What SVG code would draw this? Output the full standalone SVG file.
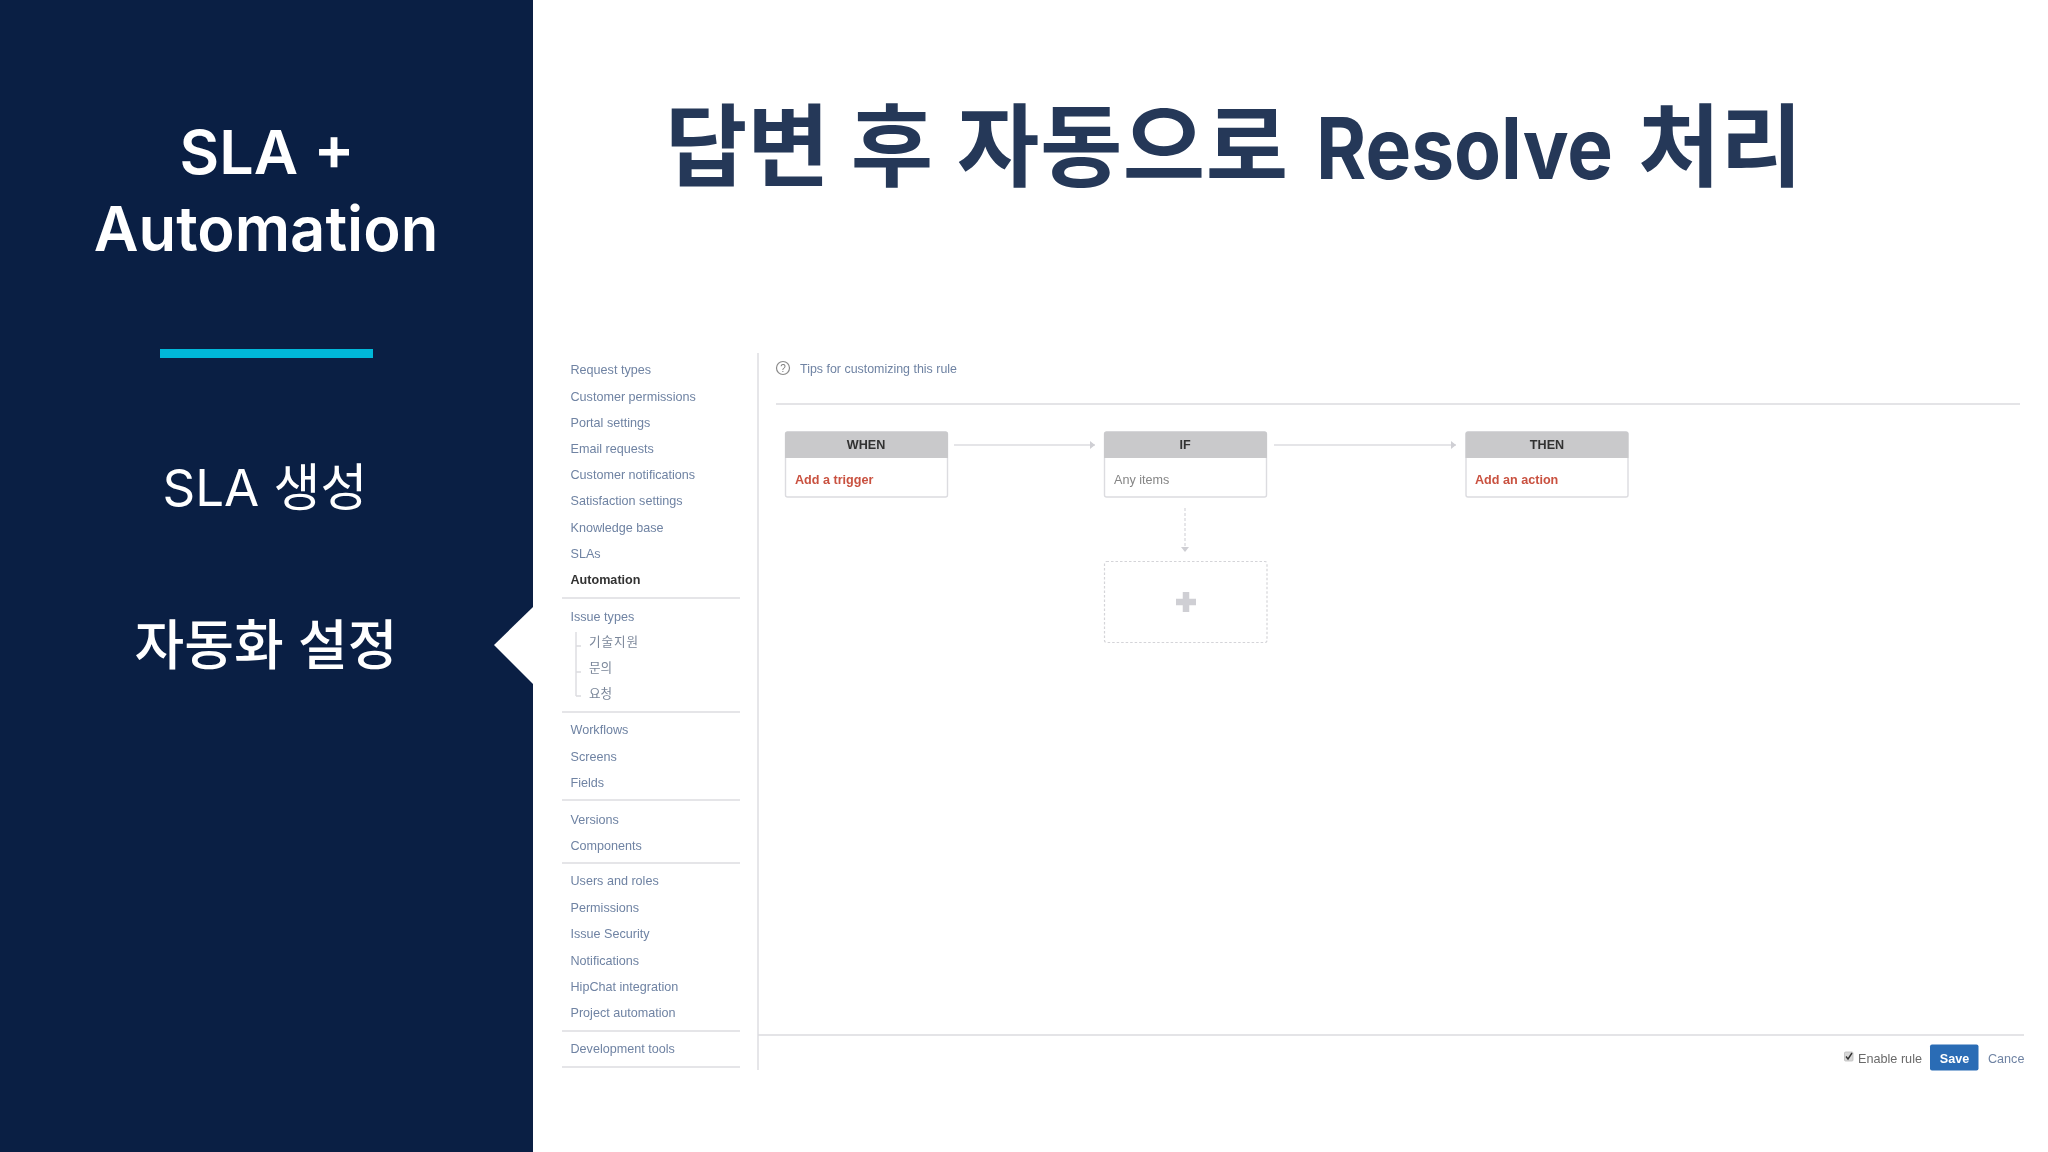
<svg xmlns="http://www.w3.org/2000/svg" width="2048" height="1152" viewBox="0 0 2048 1152">
<style>
text{font-family:"Liberation Sans",Arial,"Noto Sans CJK KR",sans-serif}
.k{font-family:"Inter","Noto Sans CJK KR",sans-serif}
.side{fill:#fff;text-anchor:middle}
.m{font-size:12.6px;fill:#6f83a3}
.mk{font-size:12.6px;fill:#7a8699;font-family:"Noto Sans CJK KR",sans-serif}
.h{font-size:12.6px;font-weight:bold;fill:#333;text-anchor:middle}
.a{font-size:12.6px;font-weight:bold;fill:#c9513f}
.sep{stroke:#dcdce0;stroke-width:1.4;fill:none}
.conn{stroke:#dcdce0;stroke-width:1.4;fill:none}
.box{fill:#fff;stroke:#dcdce0;stroke-width:1.4}
.head{fill:#c9c9cb}
</style>
<defs>
<marker id="ah" markerUnits="userSpaceOnUse" markerWidth="7" markerHeight="10" refX="6" refY="5" orient="auto"><path d="M1 1L6 5L1 9Z" fill="#cfcfd4"/></marker>
<filter id="soft" x="-2%" y="-2%" width="104%" height="104%"><feGaussianBlur stdDeviation="0.4"/></filter>
</defs>
<rect width="2048" height="1152" fill="#fff"/>
<g id="sidebar">
<rect width="533" height="1152" fill="#0a1f44"/>
<path d="M533 607L494 645L533 684Z" fill="#fff"/>
<text class="side k" x="267" y="174" font-size="61" font-weight="600">SLA +</text>
<text class="side k" x="266" y="251" font-size="61.5" font-weight="600">Automation</text>
<rect x="160" y="349" width="213" height="9" fill="#00b8d9"/>
<text class="side k" x="265" y="506" font-size="51" font-weight="400">SLA 생성</text>
<text class="side k" x="266" y="665" font-size="54" font-weight="500">자동화 설정</text>
</g>
<text id="title" class="k" x="665" y="179" font-size="89.5" font-weight="700" fill="#253858">답변 후 <tspan x="957" textLength="331" lengthAdjust="spacing">자동으로</tspan><tspan x="1316" font-size="85" textLength="297" lengthAdjust="spacingAndGlyphs">Resolve</tspan><tspan x="1638">처리</tspan></text>
<g id="screenshot" filter="url(#soft)">
<g id="menu">
<text class="m" x="570.500" y="374">Request types</text>
<text class="m" x="570.500" y="401">Customer permissions</text>
<text class="m" x="570.500" y="427">Portal settings</text>
<text class="m" x="570.500" y="453">Email requests</text>
<text class="m" x="570.500" y="479">Customer notifications</text>
<text class="m" x="570.500" y="505">Satisfaction settings</text>
<text class="m" x="570.500" y="532">Knowledge base</text>
<text class="m" x="570.500" y="558">SLAs</text>
<text x="570.500" y="584" font-size="12.6" font-weight="bold" fill="#333">Automation</text>
<path class="sep" d="M562 598H740"/>
<text class="m" x="570.500" y="621">Issue types</text>
<path class="sep" d="M576 632V696M576 646H581M576 672H581M576 696H581"/>
<text class="mk" x="589" y="646" textLength="49" lengthAdjust="spacing">기술지원</text>
<text class="mk" x="589" y="672">문의</text>
<text class="mk" x="589" y="698">요청</text>
<path class="sep" d="M562 712H740"/>
<text class="m" x="570.500" y="734">Workflows</text>
<text class="m" x="570.500" y="761">Screens</text>
<text class="m" x="570.500" y="787">Fields</text>
<path class="sep" d="M562 800H740"/>
<text class="m" x="570.500" y="824">Versions</text>
<text class="m" x="570.500" y="850">Components</text>
<path class="sep" d="M562 863H740"/>
<text class="m" x="570.500" y="885">Users and roles</text>
<text class="m" x="570.500" y="912">Permissions</text>
<text class="m" x="570.500" y="938">Issue Security</text>
<text class="m" x="570.500" y="965">Notifications</text>
<text class="m" x="570.500" y="991">HipChat integration</text>
<text class="m" x="570.500" y="1017">Project automation</text>
<path class="sep" d="M562 1031H740"/>
<text class="m" x="570.500" y="1053">Development tools</text>
<path class="sep" d="M562 1067H740"/>
</g>
<path class="sep" d="M758 353V1070M758 1035H2024M776 404H2020"/>
<g id="tips">
<circle cx="783" cy="368" r="6.500" fill="none" stroke="#8a8a8a" stroke-width="1.200"/>
<text x="783" y="372" font-size="10" fill="#7a7a7a" text-anchor="middle">?</text>
<text class="m" x="800" y="373" textLength="157" lengthAdjust="spacingAndGlyphs">Tips for customizing this rule</text>
</g>
<g id="connectors">
<path class="conn" d="M954 445H1095" marker-end="url(#ah)"/>
<path class="conn" d="M1274 445H1456" marker-end="url(#ah)"/>
<path class="conn" d="M1185 508V552" stroke-dasharray="3 2" marker-end="url(#ah)"/>
</g>
<g id="when">
<rect class="box" x="785.500" y="432" width="162" height="65" rx="2"/>
<path class="head" d="M785 458V434Q785 431.500 787.500 431.500H945.500Q948 431.500 948 434V458Z"/>
<text class="h" x="866" y="449">WHEN</text>
<text class="a" x="795" y="484">Add a trigger</text>
</g>
<g id="if">
<rect class="box" x="1104.500" y="432" width="162" height="65" rx="2"/>
<path class="head" d="M1104 458V434Q1104 431.500 1106.500 431.500H1264.500Q1267 431.500 1267 434V458Z"/>
<text class="h" x="1185" y="449">IF</text>
<text x="1114" y="484" font-size="12.6" fill="#858585">Any items</text>
</g>
<g id="then">
<rect class="box" x="1466" y="432" width="162" height="65" rx="2"/>
<path class="head" d="M1465.500 458V434Q1465.500 431.500 1468 431.500H1626Q1628.500 431.500 1628.500 434V458Z"/>
<text class="h" x="1547" y="449">THEN</text>
<text class="a" x="1475" y="484">Add an action</text>
</g>
<g id="add">
<rect x="1104.500" y="561.500" width="162.500" height="81" rx="2" fill="#fff" stroke="#d4d4d8" stroke-width="1.200" stroke-dasharray="2.500 2"/>
<path d="M1176 602H1196M1186 592V612" stroke="#cfcfd4" stroke-width="6.500" fill="none"/>
</g>
<g id="footer">
<rect x="1844.500" y="1052" width="8.500" height="9" rx="1" fill="#d8d8d8" stroke="#bbb" stroke-width="0.800"/>
<path d="M1846 1056.500L1848 1059L1852 1053" fill="none" stroke="#333" stroke-width="1.400"/>
<text x="1858" y="1063" font-size="12.600" fill="#6a6a6a" textLength="64" lengthAdjust="spacingAndGlyphs">Enable rule</text>
<rect x="1930" y="1044.500" width="48.500" height="26" rx="2" fill="#2a6cb5"/>
<text x="1954.500" y="1063" font-size="12.600" font-weight="bold" fill="#fff" text-anchor="middle">Save</text>
<text class="m" x="1988" y="1063">Cance</text>
</g>
</g>
</svg>
